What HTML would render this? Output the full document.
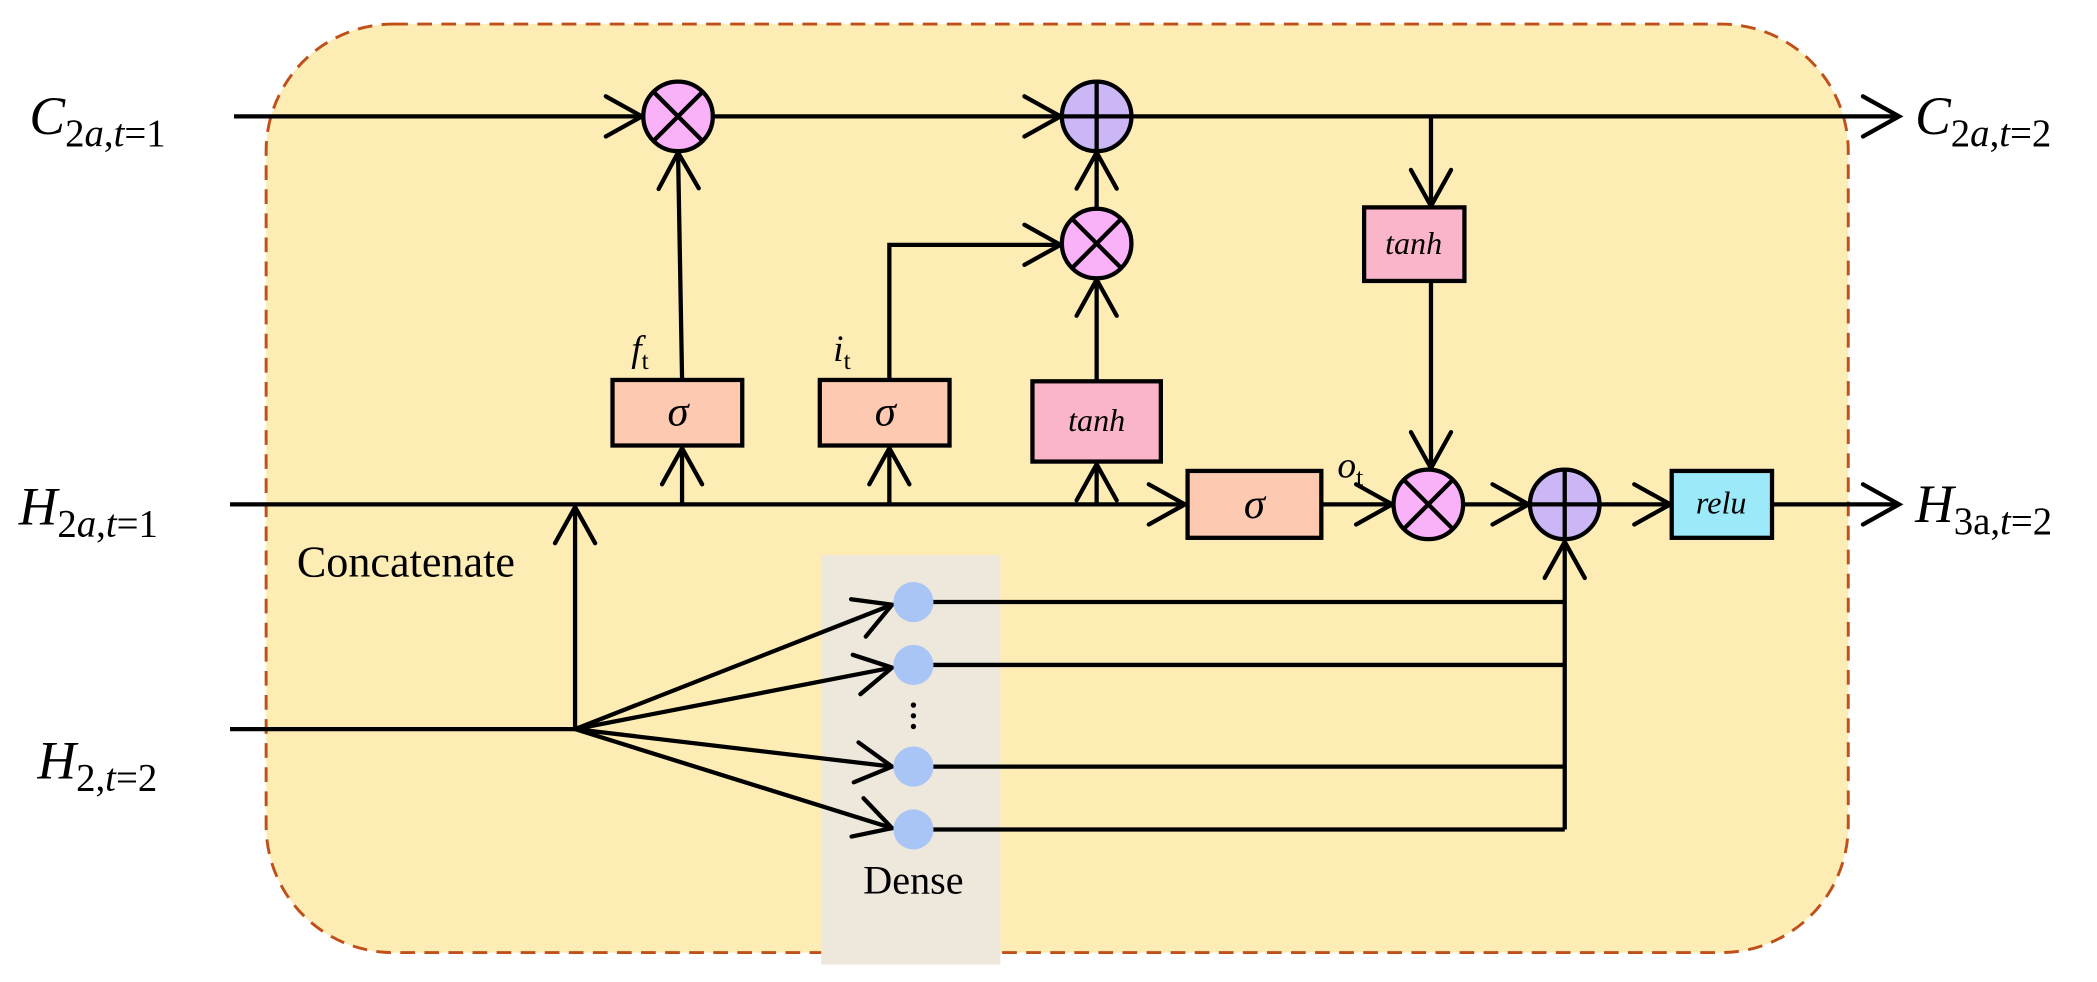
<!DOCTYPE html>
<html><head><meta charset="utf-8"><style>
html,body{margin:0;padding:0;background:#fff;}
svg{display:block;}
text{font-family:"Liberation Serif",serif;}
</style></head><body>
<svg width="2097" height="982" viewBox="0 0 1568 734" preserveAspectRatio="none" xmlns="http://www.w3.org/2000/svg">
<defs>
<marker id="a" markerUnits="userSpaceOnUse" markerWidth="40" markerHeight="40" viewBox="-32 -20 36 40" refX="0" refY="0" orient="auto">
<path d="M-27,-15 L0,0 L-27,15" fill="none" stroke="#000" stroke-width="3.2" stroke-linecap="round"/>
</marker>
</defs>
<rect x="199" y="18" width="1183" height="694" rx="95" ry="95" fill="#fdedb5" stroke="#c0501a" stroke-width="2.2" stroke-dasharray="11,7"/>
<rect x="614" y="415" width="134" height="306" fill="#ede7dc"/>

<g stroke="#000" stroke-width="3.2" fill="none">
<line x1="175" y1="87" x2="480" y2="87" marker-end="url(#a)"/>
<line x1="533" y1="87" x2="793" y2="87" marker-end="url(#a)"/>
<line x1="846" y1="87" x2="1420" y2="87" marker-end="url(#a)"/>
<line x1="1070" y1="87" x2="1070" y2="154" marker-end="url(#a)"/>
<line x1="1070" y1="210" x2="1070" y2="350" marker-end="url(#a)"/>
<line x1="510" y1="283" x2="507" y2="114" marker-end="url(#a)"/>
<polyline points="665,283 665,183 793,183" marker-end="url(#a)"/>
<line x1="820" y1="285" x2="820" y2="209" marker-end="url(#a)"/>
<line x1="820" y1="156" x2="820" y2="114" marker-end="url(#a)"/>
<line x1="172" y1="377" x2="886" y2="377" marker-end="url(#a)"/>
<line x1="988" y1="377" x2="1041" y2="377" marker-end="url(#a)"/>
<line x1="1094" y1="377" x2="1143" y2="377" marker-end="url(#a)"/>
<line x1="1196" y1="377" x2="1249" y2="377" marker-end="url(#a)"/>
<line x1="1325" y1="377" x2="1420" y2="377" marker-end="url(#a)"/>
<line x1="510" y1="377" x2="510" y2="335" marker-end="url(#a)"/>
<line x1="665" y1="377" x2="665" y2="335" marker-end="url(#a)"/>
<line x1="820" y1="377" x2="820" y2="347" marker-end="url(#a)"/>
<line x1="430" y1="545" x2="430" y2="379" marker-end="url(#a)"/>
<line x1="172" y1="545" x2="430" y2="545"/>
<line x1="430" y1="545" x2="667" y2="452" marker-end="url(#a)"/>
<line x1="430" y1="545" x2="667" y2="499" marker-end="url(#a)"/>
<line x1="430" y1="545" x2="667" y2="573" marker-end="url(#a)"/>
<line x1="430" y1="545" x2="667" y2="619" marker-end="url(#a)"/>
<line x1="697" y1="450" x2="1170" y2="450"/>
<line x1="697" y1="497" x2="1170" y2="497"/>
<line x1="697" y1="573" x2="1170" y2="573"/>
<line x1="697" y1="620" x2="1170" y2="620"/>
<line x1="1170" y1="620" x2="1170" y2="405" marker-end="url(#a)"/>
</g>

<g stroke="#000" stroke-width="3.2">
<circle cx="507" cy="87" r="26" fill="#f9b1f8"/>
<line x1="489" y1="69" x2="525" y2="105"/><line x1="525" y1="69" x2="489" y2="105"/>
<circle cx="820" cy="87" r="26" fill="#cbb6f6"/>
<line x1="794" y1="87" x2="846" y2="87"/><line x1="820" y1="61" x2="820" y2="113"/>
<circle cx="820" cy="182" r="26" fill="#f9b1f8"/>
<line x1="802" y1="164" x2="838" y2="200"/><line x1="838" y1="164" x2="802" y2="200"/>
<circle cx="1068" cy="377" r="26" fill="#f9b1f8"/>
<line x1="1050" y1="359" x2="1086" y2="395"/><line x1="1086" y1="359" x2="1050" y2="395"/>
<circle cx="1170" cy="377" r="26" fill="#cbb6f6"/>
<line x1="1144" y1="377" x2="1196" y2="377"/><line x1="1170" y1="351" x2="1170" y2="403"/>
<rect x="458" y="284" width="97" height="49" fill="#fec9b1"/>
<rect x="613" y="284" width="97" height="49" fill="#fec9b1"/>
<rect x="772" y="285" width="96" height="60" fill="#fbb5c9"/>
<rect x="1020" y="155" width="75" height="55" fill="#fbb5c9"/>
<rect x="888" y="352" width="100" height="50" fill="#fec9b1"/>
<rect x="1250" y="352" width="75" height="50" fill="#9ce9f9"/>
</g>
<g fill="#a9c5f5">
<circle cx="683" cy="450" r="15"/><circle cx="683" cy="497" r="15"/>
<circle cx="683" cy="573" r="15"/><circle cx="683" cy="620" r="15"/>
</g>
<g fill="#000">
<circle cx="683" cy="527" r="2"/><circle cx="683" cy="535" r="2"/><circle cx="683" cy="543" r="2"/>
</g>

<g font-size="32" text-anchor="middle" font-style="italic">
<text x="507" y="318">σ</text>
<text x="662" y="318">σ</text>
<text x="938" y="387">σ</text>
</g>
<g font-size="24" text-anchor="middle" font-style="italic">
<text x="820" y="322">tanh</text>
<text x="1057" y="190">tanh</text>
<text x="1287" y="384">relu</text>
</g>
<g font-size="28" font-style="italic">
<text x="472" y="270">f<tspan font-size="19" dy="6" font-style="normal">t</tspan></text>
<text x="623" y="270">i<tspan font-size="19" dy="6" font-style="normal">t</tspan></text>
<text x="1000" y="357">o<tspan font-size="19" dy="6" font-style="normal">t</tspan></text>
</g>
<g font-size="40" font-style="italic">
<text x="22" y="100">C<tspan font-size="29" dy="9" font-style="normal">2<tspan font-style="italic">a</tspan>,<tspan font-style="italic">t</tspan>=1</tspan></text>
<text x="14" y="392">H<tspan font-size="29" dy="9" font-style="normal">2<tspan font-style="italic">a</tspan>,<tspan font-style="italic">t</tspan>=1</tspan></text>
<text x="28" y="582">H<tspan font-size="29" dy="9" font-style="normal">2,<tspan font-style="italic">t</tspan>=2</tspan></text>
<text x="1432" y="100">C<tspan font-size="29" dy="9" font-style="normal">2<tspan font-style="italic">a</tspan>,<tspan font-style="italic">t</tspan>=2</tspan></text>
<text x="1432" y="390">H<tspan font-size="29" dy="9" font-style="normal">3a,<tspan font-style="italic">t</tspan>=2</tspan></text>
</g>
<text x="222" y="431" font-size="33">Concatenate</text>
<text x="683" y="668" font-size="30" text-anchor="middle">Dense</text>
</svg>
</body></html>
